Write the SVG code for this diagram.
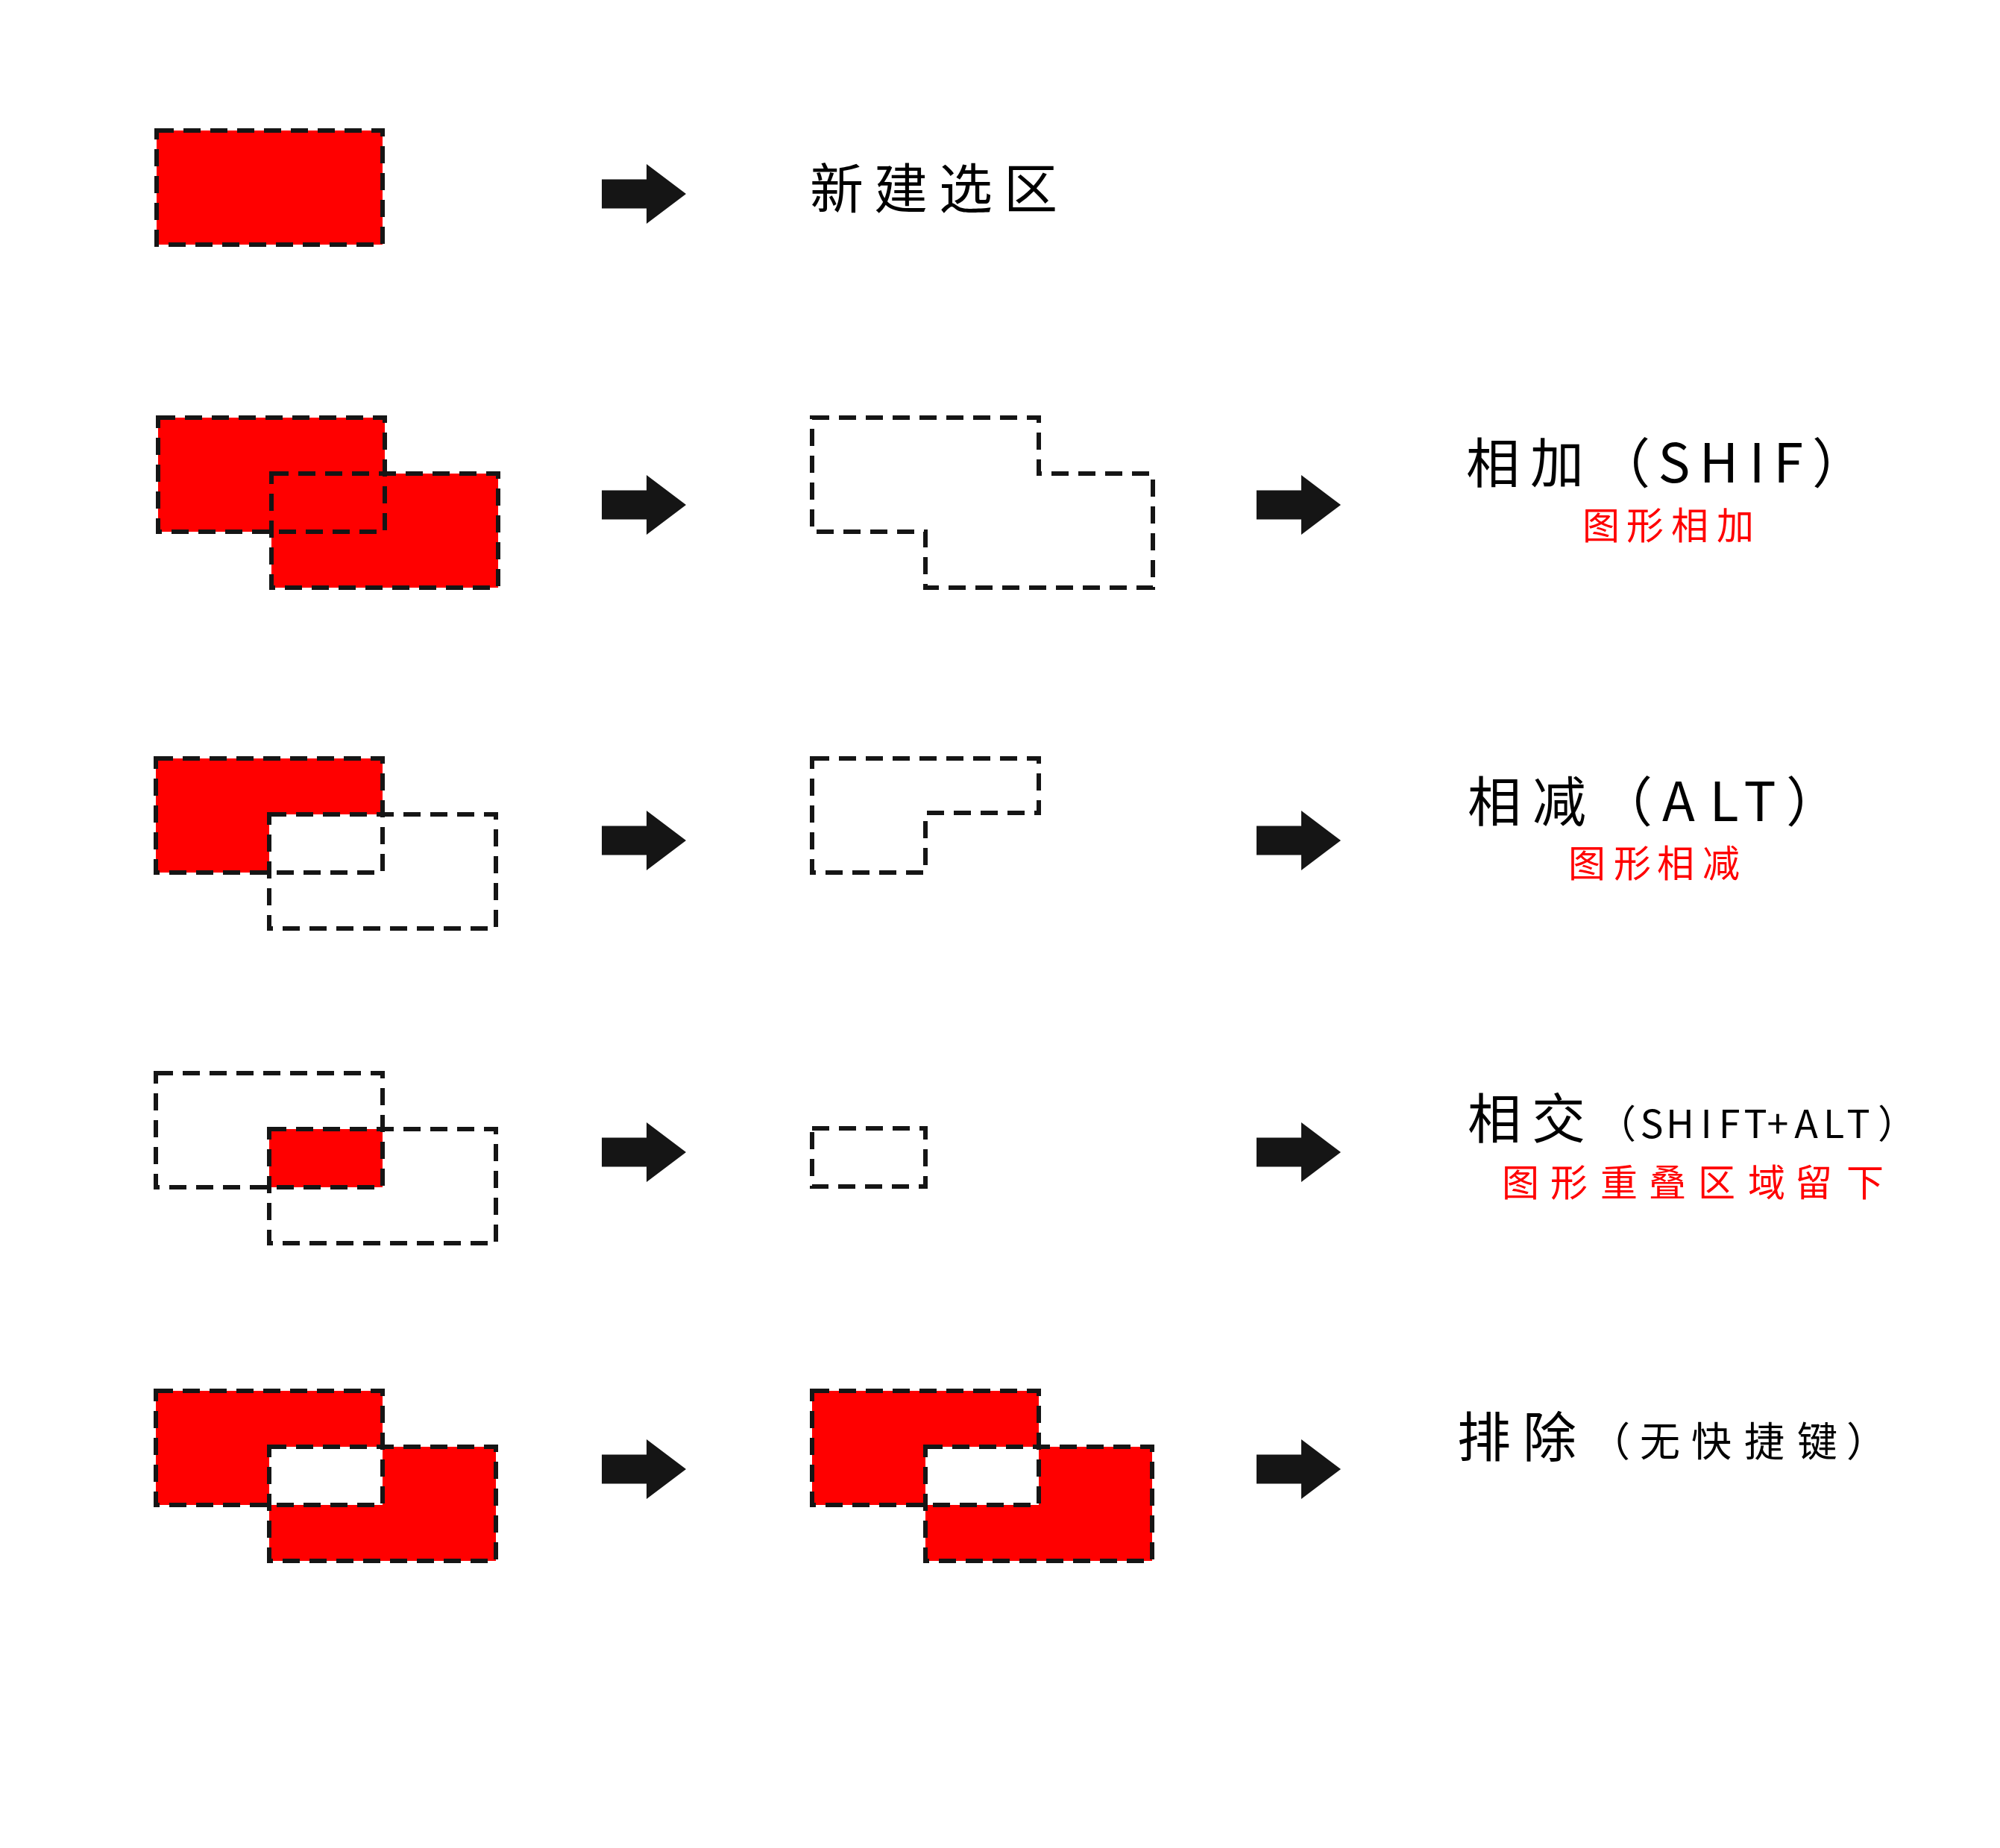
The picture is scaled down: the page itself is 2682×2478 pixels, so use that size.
<svg xmlns="http://www.w3.org/2000/svg" width="2682" height="2478" viewBox="0 0 2682 2478">
<style>
.ant{stroke:#151515;stroke-width:6;stroke-dasharray:23 13;fill:none}
.red{fill:#ff0000}
.wht{fill:#ffffff}
.arw{fill:#151515}
.t{font-family:"Noto Sans CJK SC","Noto Sans",sans-serif;text-anchor:middle;fill:#000}
.big{font-size:72px}
.sm{font-size:52px}
.note{font-size:50px;fill:#ff0000}
</style>
<defs>
<path id="arrow" d="M0,-19.5 H60 V-40 L113,0 L60,40 V19.5 H0 Z"/>
</defs>
<rect width="2682" height="2478" fill="#ffffff"/>

<g id="row1-shape">
<rect class="red" x="210" y="175" width="303" height="153"/>
<rect class="ant" x="210" y="175" width="303" height="153"/>
</g>

<g id="row2-shape-a">
<rect class="red" x="212" y="560" width="304" height="153"/>
<rect class="red" x="364" y="635" width="304" height="153"/>
<rect class="ant" x="212" y="560" width="304" height="153"/>
<rect class="ant" x="364" y="635" width="304" height="153"/>
</g>
<g id="row2-shape-b">
<path class="ant" d="M1089,560 H1393 V635 H1546 V788 H1241 V713 H1089 Z"/>
</g>

<g id="row3-shape-a">
<rect class="red" x="209" y="1017" width="304" height="153"/>
<rect class="wht" x="361" y="1092" width="304" height="153"/>
<rect class="ant" x="209" y="1017" width="304" height="153"/>
<rect class="ant" x="361" y="1092" width="304" height="153"/>
</g>
<g id="row3-shape-b">
<path class="ant" d="M1089,1017 H1393 V1090 H1241 V1170 H1089 Z"/>
</g>

<g id="row4-shape-a">
<rect class="red" x="361" y="1514" width="152" height="78"/>
<rect class="ant" x="209" y="1439" width="304" height="153"/>
<rect class="ant" x="361" y="1514" width="304" height="153"/>
</g>
<g id="row4-shape-b">
<rect class="ant" x="1089" y="1513" width="152" height="78"/>
</g>

<g id="row5-shape-a">
<rect class="red" x="209" y="1865" width="304" height="153"/>
<rect class="red" x="361" y="1940" width="304" height="153"/>
<rect class="wht" x="361" y="1940" width="152" height="78"/>
<rect class="ant" x="209" y="1865" width="304" height="153"/>
<rect class="ant" x="361" y="1940" width="304" height="153"/>
</g>
<g id="row5-shape-b">
<rect class="red" x="1089" y="1865" width="304" height="153"/>
<rect class="red" x="1241" y="1940" width="304" height="153"/>
<rect class="wht" x="1241" y="1940" width="152" height="78"/>
<rect class="ant" x="1089" y="1865" width="304" height="153"/>
<rect class="ant" x="1241" y="1940" width="304" height="153"/>
</g>

<g id="connectors">
<use href="#arrow" class="arw" x="807" y="260"/>
<use href="#arrow" class="arw" x="807" y="677"/>
<use href="#arrow" class="arw" x="1685" y="677"/>
<use href="#arrow" class="arw" x="807" y="1127"/>
<use href="#arrow" class="arw" x="1685" y="1127"/>
<use href="#arrow" class="arw" x="807" y="1545"/>
<use href="#arrow" class="arw" x="1685" y="1545"/>
<use href="#arrow" class="arw" x="807" y="1970"/>
<use href="#arrow" class="arw" x="1685" y="1970"/>
</g>

<g id="label-new">
<text class="t big" x="1122 1208 1295 1382" y="279">新建选区</text>
</g>

<g id="label-add">
<text class="t big" x="2002 2088 2177 2245 2305 2356 2398 2466" y="647">相加（SHIF）</text>
<text class="t note" x="2147 2206 2266 2327" y="723">图形相加</text>
</g>

<g id="label-sub">
<text class="t big" x="2004 2091 2180 2251 2312 2360 2431" y="1101">相减（ALT）</text>
<text class="t note" x="2128 2189 2247 2308" y="1176">图形相减</text>
</g>

<g id="label-int">
<text class="t big" y="1526"><tspan x="2004 2090">相交</tspan><tspan class="sm" x="2168 2215 2253 2288 2319 2354 2384 2422 2459 2492 2544">（SHIFT+ALT）</tspan></text>
<text class="t note sm" x="2039 2104 2171 2236 2302 2369 2432 2501" y="1604">图形重叠区域留下</text>
</g>

<g id="label-exc">
<text class="t big" y="1953"><tspan x="1990 2078">排除</tspan><tspan style="font-size:54px" x="2159 2226 2295 2366 2437 2503">（无快捷键）</tspan></text>
</g>
</svg>
